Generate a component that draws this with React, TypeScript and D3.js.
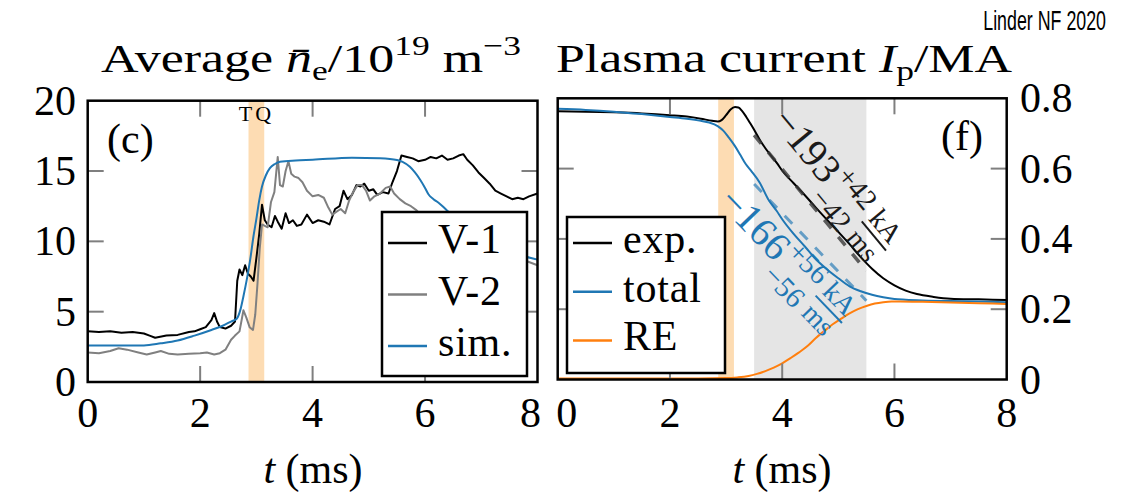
import React from "react";
import * as d3 from "d3";

// ---- panel (c): line-averaged density, 1e19 m^-3 ----
const tV1 = [0, 0.2, 0.4, 0.6, 0.8, 1.0, 1.1, 1.2, 1.4, 1.6, 1.8, 1.9, 2.0, 2.1, 2.2, 2.25, 2.3, 2.35, 2.45, 2.55, 2.62, 2.66, 2.7, 2.75, 2.8, 2.85, 2.9, 2.95, 3.0, 3.05, 3.1, 3.15, 3.2, 3.27, 3.33, 3.38, 3.45, 3.52, 3.58, 3.65, 3.72, 3.8, 3.9, 4.0, 4.1, 4.2, 4.3, 4.4, 4.48, 4.55, 4.62, 4.7, 4.78, 4.85, 4.92, 5.0, 5.08, 5.15, 5.25, 5.35, 5.42, 5.5, 5.58, 5.68, 5.78, 5.88, 6.0, 6.1, 6.2, 6.3, 6.4, 6.5, 6.6, 6.68, 6.75, 6.85, 6.95, 7.05, 7.15, 7.25, 7.35, 7.45, 7.55, 7.65, 7.75, 7.85, 8.0];
const nV1 = [3.6, 3.55, 3.6, 3.5, 3.55, 3.45, 3.3, 3.15, 3.3, 3.35, 3.55, 3.6, 3.75, 3.9, 4.4, 4.9, 4.3, 3.9, 3.8, 4.0, 4.3, 7.2, 8.0, 7.6, 8.3, 7.7, 7.5, 7.2, 8.8, 10.5, 12.6, 11.5, 11.2, 11.0, 11.8, 11.4, 10.9, 12.0, 11.3, 11.5, 11.1, 11.2, 11.9, 11.3, 11.5, 11.4, 11.2, 12.3, 12.5, 13.6, 13.0, 13.3, 14.0, 13.9, 14.1, 13.6, 13.7, 13.3, 13.5, 13.4, 14.2, 15.0, 16.1, 16.0, 15.9, 15.7, 15.8, 16.0, 15.9, 16.1, 15.8, 15.9, 16.1, 16.2, 15.8, 15.4, 14.9, 14.5, 14.1, 13.6, 13.4, 13.2, 13.0, 13.1, 13.0, 13.2, 13.4];

const tV2 = [0, 0.2, 0.4, 0.55, 0.7, 0.9, 1.05, 1.2, 1.3, 1.45, 1.6, 1.8, 2.0, 2.12, 2.25, 2.35, 2.45, 2.55, 2.62, 2.7, 2.77, 2.82, 2.88, 2.94, 2.98, 3.02, 3.06, 3.1, 3.15, 3.2, 3.26, 3.32, 3.38, 3.42, 3.47, 3.52, 3.57, 3.62, 3.68, 3.75, 3.82, 3.9, 4.0, 4.1, 4.2, 4.28, 4.35, 4.42, 4.5, 4.58, 4.65, 4.72, 4.8, 4.88, 4.95, 5.02, 5.1, 5.2, 5.3, 5.38, 5.45, 5.55, 5.65, 5.75, 5.85, 6.0, 6.3, 6.6, 7.0, 7.4, 7.8, 8.0];
const nV2 = [2.1, 2.05, 2.2, 2.4, 2.3, 2.1, 1.95, 2.1, 2.2, 2.0, 1.95, 2.0, 2.05, 2.1, 1.95, 2.05, 2.3, 3.0, 3.3, 3.6, 5.1, 4.6, 3.9, 3.7, 4.8, 7.0, 9.5, 11.2, 11.1, 11.0, 12.8, 13.5, 16.0, 14.0, 13.9, 15.0, 15.7, 14.8, 14.6, 14.5, 14.2, 13.6, 13.2, 13.3, 13.1, 12.4, 11.9, 12.1, 12.3, 12.0, 12.9, 13.5, 14.0, 14.0, 13.6, 12.9, 13.2, 13.4, 13.8, 13.9, 13.4, 13.0, 12.7, 12.5, 12.2, 11.6, 10.8, 10.0, 9.4, 9.0, 8.6, 8.3];

const tSim = [0, 0.5, 1.0, 1.3, 1.6, 1.9, 2.2, 2.4, 2.55, 2.65, 2.72, 2.77, 2.83, 2.89, 2.95, 3.0, 3.05, 3.1, 3.17, 3.24, 3.33, 3.42, 3.7, 4.0, 4.7, 5.2, 5.5, 5.6, 5.73, 5.82, 5.91, 6.0, 6.06, 6.15, 6.24, 6.39, 6.8, 7.2, 7.5, 7.8, 8.0];
const nSim = [2.6, 2.6, 2.6, 2.75, 2.95, 3.3, 3.7, 4.0, 4.3, 4.5, 5.2, 6.1, 7.3, 8.7, 10.4, 11.6, 12.9, 13.9, 14.7, 15.2, 15.5, 15.66, 15.75, 15.8, 15.95, 15.9, 15.78, 15.65, 15.3, 14.9, 14.4, 13.8, 13.35, 13.0, 12.75, 12.2, 11.0, 10.0, 9.4, 8.9, 8.7];

// ---- panel (f): plasma current, MA ----
const tExp = [0, 0.5, 1.0, 1.5, 2.0, 2.3, 2.55, 2.75, 2.85, 2.92, 3.0, 3.08, 3.16, 3.22, 3.28, 3.36, 3.43, 3.52, 3.6, 3.7, 3.8, 3.9, 4.0, 4.2, 4.4, 4.6, 4.8, 5.0, 5.2, 5.4, 5.6, 5.8, 6.0, 6.2, 6.4, 6.7, 7.0, 7.5, 8.0];
const iExp = [0.763, 0.762, 0.76, 0.757, 0.752, 0.748, 0.742, 0.736, 0.734, 0.738, 0.752, 0.768, 0.775, 0.774, 0.765, 0.747, 0.729, 0.705, 0.682, 0.658, 0.637, 0.617, 0.594, 0.559, 0.525, 0.489, 0.454, 0.42, 0.385, 0.348, 0.315, 0.288, 0.268, 0.253, 0.243, 0.235, 0.23, 0.228, 0.226];

const tTot = [0, 0.5, 1.0, 1.5, 2.0, 2.3, 2.55, 2.7, 2.85, 2.95, 3.05, 3.15, 3.25, 3.35, 3.45, 3.6, 3.75, 3.9, 4.0, 4.2, 4.4, 4.6, 4.8, 5.0, 5.2, 5.4, 5.6, 5.8, 6.0, 6.2, 6.5, 7.0, 7.5, 8.0];
const iTot = [0.77, 0.767, 0.762, 0.755, 0.747, 0.742, 0.736, 0.731, 0.721, 0.708, 0.688, 0.666, 0.64, 0.613, 0.593, 0.56, 0.513, 0.48, 0.456, 0.415, 0.379, 0.342, 0.313, 0.288, 0.265, 0.251, 0.241, 0.234, 0.229, 0.227, 0.225, 0.223, 0.222, 0.22];

const tRE = [0, 1, 2, 2.5, 3.0, 3.2, 3.4, 3.55, 3.7, 3.85, 4.0, 4.15, 4.3, 4.45, 4.6, 4.75, 4.9, 5.05, 5.2, 5.35, 5.5, 5.65, 5.8, 5.95, 6.1, 6.5, 7.0, 7.5, 8.0];
const iRE = [0.003, 0.003, 0.003, 0.003, 0.004, 0.006, 0.01, 0.016, 0.024, 0.034, 0.046, 0.061, 0.077, 0.095, 0.118, 0.138, 0.157, 0.173, 0.188, 0.2, 0.209, 0.216, 0.22, 0.222, 0.222, 0.221, 0.219, 0.217, 0.215];

// linear fits of the current quench, MA vs ms
const fitT = [3.5, 5.5];
const fitExp = [0.695, 0.309];
const fitTot = [0.556, 0.224];

const tqBand = [2.86, 3.14];
const cqBand = [3.5, 5.5];

const xTicks = [0, 2, 4, 6, 8];
const nTicks = [0, 5, 10, 15, 20];
const iTicks = [0, 0.2, 0.4, 0.6, 0.8];

const serif = "'Liberation Serif', 'DejaVu Serif', serif";
const BLUE = "#1f77b4";
const ORANGE = "#ff7f0e";
const GRAY = "#808080";
const TQ = "#fddcb3";
const CQ = "#e5e5e5";

const L = { x0: 87.7, x1: 537.5, y0: 100.7, y1: 382 };
const R = { x0: 557.7, x1: 1006.7, y0: 98.3, y1: 379.5 };

type Box = typeof L;

function Ticks({ box, x, y, xs, ys }: { box: Box; x: any; y: any; xs: number[]; ys: number[] }) {
  const len = 16;
  return (
    <g stroke="#7f7f7f" strokeWidth={2}>
      {xs.map((v) => (
        <g key={"x" + v}>
          <line x1={x(v)} x2={x(v)} y1={box.y1} y2={box.y1 - len} />
          <line x1={x(v)} x2={x(v)} y1={box.y0} y2={box.y0 + len} />
        </g>
      ))}
      {ys.map((v) => (
        <g key={"y" + v}>
          <line x1={box.x0} x2={box.x0 + len} y1={y(v)} y2={y(v)} />
          <line x1={box.x1} x2={box.x1 - len} y1={y(v)} y2={y(v)} />
        </g>
      ))}
    </g>
  );
}

function SlopeLabel({ x, y, angle, main, sup, sub, color }: any) {
  return (
    <g transform={`translate(${x},${y}) rotate(${angle})`} fill={color} fontFamily={serif}>
      <text x={0} y={0} fontSize={40}>{main}</text>
      <text x={84} y={-15} fontSize={29}>{sup}</text>
      <text x={84} y={19} fontSize={29}>{sub}</text>
      <text x={154} y={-13} fontSize={28} textAnchor="middle">kA</text>
      <line x1={135} x2={173} y1={-7} y2={-7} stroke={color} strokeWidth={2} />
      <text x={154} y={17} fontSize={28} textAnchor="middle">ms</text>
    </g>
  );
}

function Legend({ x, y, w, h, rows, gap, start }: any) {
  return (
    <g>
      <rect x={x} y={y} width={w} height={h} fill="white" stroke="black" strokeWidth={2.5} />
      {rows.map((r: any, i: number) => {
        const yy = start + i * gap;
        return (
          <g key={r.label}>
            <line x1={x + 6} x2={x + 45} y1={yy} y2={yy} stroke={r.color} strokeWidth={2.5} />
            <text x={x + 56} y={yy + 10} fontSize={42} letterSpacing={0.8} fontFamily={serif}>{r.label}</text>
          </g>
        );
      })}
    </g>
  );
}

export default function App() {
  const xL = d3.scaleLinear().domain([0, 8]).range([L.x0, L.x1]);
  const yL = d3.scaleLinear().domain([0, 20]).range([L.y1, L.y0]);
  const xR = d3.scaleLinear().domain([0, 8]).range([R.x0, R.x1]);
  const yR = d3.scaleLinear().domain([0, 0.8]).range([R.y1, R.y0]);

  const lineL = d3.line<[number, number]>().x((d) => xL(d[0])).y((d) => yL(d[1]));
  const smoothL = d3.line<[number, number]>().x((d) => xL(d[0])).y((d) => yL(d[1])).curve(d3.curveMonotoneX);
  const smoothR = d3.line<[number, number]>().x((d) => xR(d[0])).y((d) => yR(d[1])).curve(d3.curveMonotoneX);

  const v1 = d3.zip(tV1, nV1) as [number, number][];
  const v2 = d3.zip(tV2, nV2) as [number, number][];
  const sim = d3.zip(tSim, nSim) as [number, number][];
  const exp = d3.zip(tExp, iExp) as [number, number][];
  const tot = d3.zip(tTot, iTot) as [number, number][];
  const re = d3.zip(tRE, iRE) as [number, number][];
  const fe = d3.zip(fitT, fitExp) as [number, number][];
  const ft = d3.zip(fitT, fitTot) as [number, number][];

  // angles of the fit lines on screen
  const ang = (f: number[]) =>
    (Math.atan2(yR(f[1]) - yR(f[0]), xR(fitT[1]) - xR(fitT[0])) * 180) / Math.PI;
  const aExp = ang(fitExp);
  const aTot = ang(fitTot);
  const rad = (a: number) => (a * Math.PI) / 180;
  const pE = [xR(fitT[0]), yR(fitExp[0])];
  const pT = [xR(fitT[0]), yR(fitTot[0])];
  const eOff = 21;
  const tOff = 40;
  const eX = pE[0] + eOff * Math.sin(rad(aExp));
  const eY = pE[1] - eOff * Math.cos(rad(aExp));
  const tX = pT[0] - tOff * Math.sin(rad(aTot)) - 12 * Math.cos(rad(aTot));
  const tY = pT[1] + tOff * Math.cos(rad(aTot)) - 12 * Math.sin(rad(aTot));

  const xLabel = (v: number, side: string) => {
    if (side === "L" && v === 8) return xL(v) - 7;
    if (side === "R" && v === 0) return xR(v) + 9;
    return side === "L" ? xL(v) : xR(v);
  };

  return (
    <svg width={1125} height={495} style={{ position: "absolute", left: 0, top: 0, background: "white" }} fontFamily={serif}>
      <defs>
        <clipPath id="clipL">
          <rect x={L.x0} y={L.y0} width={L.x1 - L.x0} height={L.y1 - L.y0} />
        </clipPath>
        <clipPath id="clipR">
          <rect x={R.x0} y={R.y0} width={R.x1 - R.x0} height={R.y1 - R.y0} />
        </clipPath>
      </defs>

      <g transform="translate(1106,30) scale(0.66,1)">
        <text x={0} y={0} textAnchor="end" fontSize={27} fontFamily="'Liberation Sans', Arial, sans-serif">
          Linder NF 2020
        </text>
      </g>

      {/* titles */}
      <text x={311} y={72} textAnchor="middle" fontSize={41} textLength={420} lengthAdjust="spacingAndGlyphs">
        {"Average "}
        <tspan fontStyle="italic">{"n\u0304"}</tspan>
        <tspan fontSize={28} dy={8}>e</tspan>
        <tspan dy={-8}>/10</tspan>
        <tspan fontSize={28} dy={-17}>19</tspan>
        <tspan dy={17}>{" m"}</tspan>
        <tspan fontSize={28} dy={-17}>{"\u22123"}</tspan>
      </text>
      <text x={784} y={72} textAnchor="middle" fontSize={41} textLength={456} lengthAdjust="spacingAndGlyphs">
        {"Plasma current "}
        <tspan fontStyle="italic">I</tspan>
        <tspan fontSize={28} dy={8}>p</tspan>
        <tspan dy={-8}>/MA</tspan>
      </text>

      {/* ---- left panel ---- */}
      <g clipPath="url(#clipL)">
        <rect x={xL(tqBand[0])} y={L.y0} width={xL(tqBand[1]) - xL(tqBand[0])} height={L.y1 - L.y0} fill={TQ} />
        <path d={lineL(v1) || ""} fill="none" stroke="black" strokeWidth={2} strokeLinejoin="round" />
        <path d={lineL(v2) || ""} fill="none" stroke={GRAY} strokeWidth={2} strokeLinejoin="round" />
        <path d={smoothL(sim) || ""} fill="none" stroke={BLUE} strokeWidth={2} />
      </g>
      <Ticks box={L} x={xL} y={yL} xs={[2, 4, 6]} ys={[5, 10, 15]} />
      <text x={xL(3)} y={121} textAnchor="middle" fontSize={22} letterSpacing={3}>TQ</text>
      <text x={107} y={153} fontSize={42}>(c)</text>
      <Legend
        x={382} y={212} w={145} h={164} gap={51.5} start={243}
        rows={[
          { label: "V-1", color: "black" },
          { label: "V-2", color: GRAY },
          { label: "sim.", color: BLUE },
        ]}
      />
      <rect x={L.x0} y={L.y0} width={L.x1 - L.x0} height={L.y1 - L.y0} fill="none" stroke="black" strokeWidth={2.5} />
      {xTicks.map((v) => (
        <text key={"lx" + v} x={xLabel(v, "L")} y={427} textAnchor="middle" fontSize={42}>{v}</text>
      ))}
      {nTicks.map((v) => (
        <text key={"ly" + v} x={76} y={yL(v)} textAnchor="end" dominantBaseline="central" fontSize={42}>{v}</text>
      ))}
      <text x={313} y={483} textAnchor="middle" fontSize={42}>
        <tspan fontStyle="italic">t</tspan>
        {" (ms)"}
      </text>

      {/* ---- right panel ---- */}
      <g clipPath="url(#clipR)">
        <rect x={xR(tqBand[0])} y={R.y0} width={xR(tqBand[1]) - xR(tqBand[0])} height={R.y1 - R.y0} fill={TQ} />
        <rect x={xR(cqBand[0])} y={R.y0} width={xR(cqBand[1]) - xR(cqBand[0])} height={R.y1 - R.y0} fill={CQ} />
        <path d={smoothR(exp) || ""} fill="none" stroke="black" strokeWidth={2} />
        <path d={smoothR(tot) || ""} fill="none" stroke={BLUE} strokeWidth={2} />
        <path d={smoothR(re) || ""} fill="none" stroke={ORANGE} strokeWidth={2} />
        <path d={smoothR(fe) || ""} fill="none" stroke="#3a3a3a" strokeOpacity={0.8} strokeWidth={3.5} strokeDasharray="11 11" />
        <path d={smoothR(ft) || ""} fill="none" stroke={BLUE} strokeOpacity={0.65} strokeWidth={3} strokeDasharray="11 11" />
      </g>
      <Ticks box={R} x={xR} y={yR} xs={[2, 4, 6]} ys={[0.2, 0.4, 0.6]} />
      <SlopeLabel x={eX} y={eY} angle={aExp} main={"\u2212193"} sup="+42" sub={"\u221242"} color="#1a1a1a" />
      <SlopeLabel x={tX} y={tY} angle={aTot} main={"\u2212166"} sup="+56" sub={"\u221256"} color={BLUE} />
      <text x={941} y={150} fontSize={42}>(f)</text>
      <Legend
        x={567} y={217} w={158} h={156} gap={48.7} start={243}
        rows={[
          { label: "exp.", color: "black" },
          { label: "total", color: BLUE },
          { label: "RE", color: ORANGE },
        ]}
      />
      <rect x={R.x0} y={R.y0} width={R.x1 - R.x0} height={R.y1 - R.y0} fill="none" stroke="black" strokeWidth={2.5} />
      {xTicks.map((v) => (
        <text key={"rx" + v} x={xLabel(v, "R")} y={427} textAnchor="middle" fontSize={42}>{v}</text>
      ))}
      {iTicks.map((v) => (
        <text key={"ry" + v} x={1020} y={yR(v)} dominantBaseline="central" fontSize={42}>{v === 0 ? "0" : v.toFixed(1)}</text>
      ))}
      <text x={782} y={483} textAnchor="middle" fontSize={42}>
        <tspan fontStyle="italic">t</tspan>
        {" (ms)"}
      </text>
    </svg>
  );
}
